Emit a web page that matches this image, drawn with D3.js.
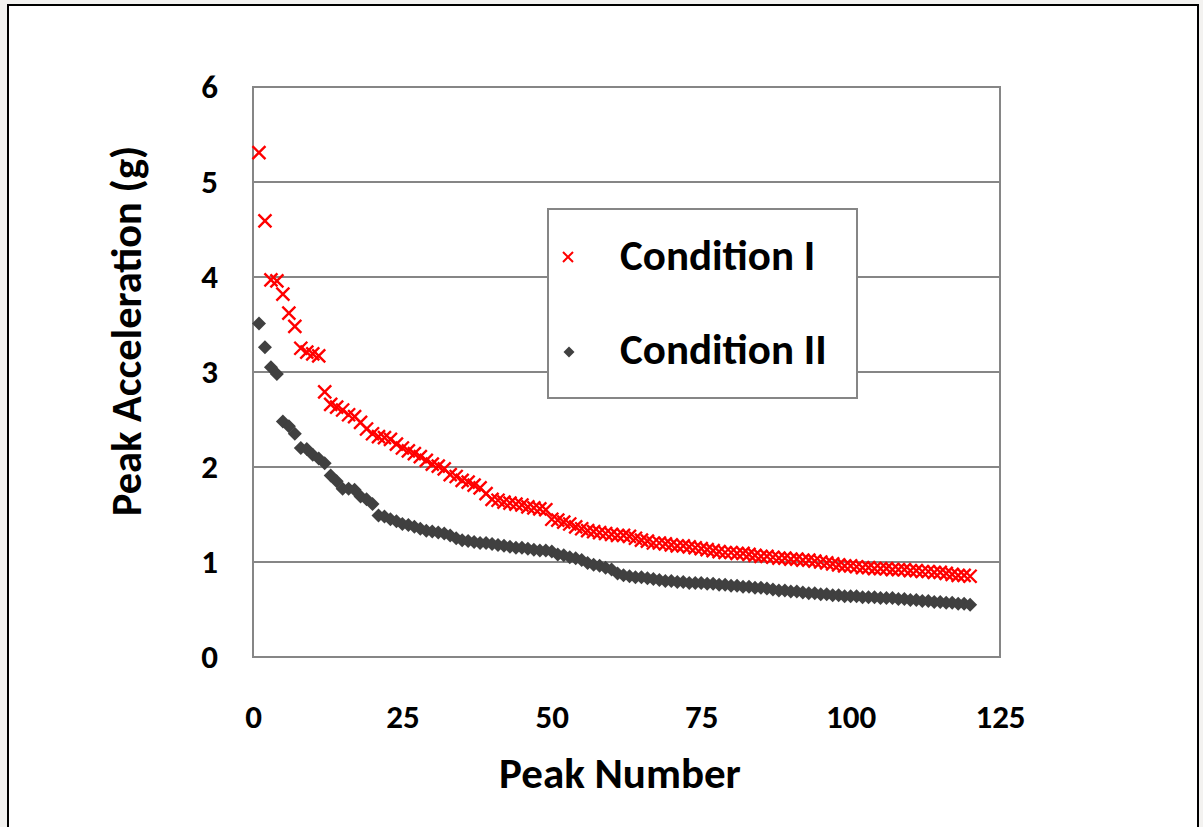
<!DOCTYPE html>
<html>
<head>
<meta charset="utf-8">
<script src="https://cdn.jsdelivr.net/npm/d3@7"></script>
<style>
html,body{margin:0;padding:0;background:#f3f2f0;}
svg{display:block;}
text{font-family:Carlito,Calibri,Lato,"Open Sans",sans-serif;font-weight:bold;fill:#000;}
</style>
</head>
<body>
<svg id="chart" width="1203" height="827"></svg>
<script>
const peakNumbers = d3.range(1, 121);
const conditionI = [
5.31,4.59,3.97,3.96,3.82,3.62,3.48,3.25,3.21,3.19,
3.17,2.79,2.66,2.63,2.60,2.55,2.53,2.47,2.40,2.35,
2.32,2.31,2.29,2.24,2.20,2.17,2.14,2.11,2.07,2.03,
2.01,1.98,1.92,1.90,1.86,1.84,1.81,1.78,1.72,1.66,
1.65,1.63,1.62,1.61,1.60,1.58,1.57,1.56,1.55,1.45,
1.44,1.42,1.40,1.37,1.35,1.33,1.32,1.31,1.30,1.29,
1.28,1.28,1.27,1.25,1.23,1.22,1.20,1.20,1.19,1.18,
1.17,1.17,1.16,1.15,1.14,1.13,1.12,1.11,1.10,1.10,
1.09,1.09,1.08,1.07,1.06,1.06,1.05,1.04,1.04,1.03,
1.03,1.02,1.02,1.01,1.00,0.99,0.98,0.97,0.96,0.96,
0.95,0.94,0.94,0.93,0.93,0.93,0.92,0.92,0.92,0.91,
0.91,0.90,0.90,0.89,0.89,0.88,0.87,0.86,0.86,0.85];
const conditionII = [
3.51,3.26,3.05,2.98,2.48,2.43,2.35,2.20,2.19,2.13,
2.09,2.04,1.91,1.85,1.77,1.77,1.76,1.69,1.66,1.61,
1.49,1.48,1.45,1.43,1.40,1.39,1.37,1.35,1.33,1.32,
1.31,1.30,1.28,1.25,1.23,1.22,1.21,1.20,1.20,1.19,
1.18,1.17,1.16,1.15,1.15,1.14,1.13,1.12,1.12,1.11,
1.08,1.07,1.05,1.04,1.02,0.99,0.97,0.96,0.94,0.92,
0.88,0.86,0.85,0.84,0.84,0.83,0.82,0.81,0.80,0.80,
0.79,0.79,0.78,0.78,0.78,0.77,0.77,0.76,0.76,0.75,
0.75,0.74,0.74,0.73,0.73,0.72,0.71,0.70,0.70,0.69,
0.69,0.68,0.67,0.67,0.66,0.66,0.65,0.65,0.64,0.64,
0.64,0.63,0.63,0.63,0.62,0.62,0.62,0.61,0.61,0.60,
0.60,0.59,0.59,0.58,0.58,0.57,0.57,0.56,0.56,0.55];
const xTicks = [0, 25, 50, 75, 100, 125];
const yTicks = [0, 1, 2, 3, 4, 5, 6];
const seriesNames = ["Condition I", "Condition II"];
const xTitle = "Peak Number";
const yTitle = "Peak Acceleration (g)";

const svg = d3.select("#chart");
svg.append("rect").attr("x", 8).attr("y", 5).attr("width", 1190).attr("height", 840)
  .attr("fill", "#fff").attr("stroke", "#000").attr("stroke-width", 2);

const L = 253, R = 1000, T = 87, B = 657;
const x = d3.scaleLinear().domain([0, 125]).range([L, R]);
const y = d3.scaleLinear().domain([0, 6]).range([B, T]);

svg.append("g").selectAll("line").data(yTicks.filter(v => v > 0)).join("line")
  .attr("x1", L).attr("x2", R).attr("y1", d => y(d)).attr("y2", d => y(d))
  .attr("stroke", "#868686").attr("stroke-width", 2);
svg.append("rect").attr("x", L).attr("y", T).attr("width", R - L).attr("height", B - T)
  .attr("fill", "none").attr("stroke", "#868686").attr("stroke-width", 2);

const yAxis = d3.axisLeft(y).tickValues(yTicks).tickSize(0).tickPadding(35).tickFormat(d3.format("d"));
const gy = svg.append("g").attr("transform", `translate(${L},0)`).call(yAxis);
gy.select(".domain").remove();
gy.selectAll("text").attr("font-size", 33).style("font-family", null);

const xAxis = d3.axisBottom(x).tickValues(xTicks).tickSize(0).tickPadding(48).tickFormat(d3.format("d"));
const gx = svg.append("g").attr("transform", `translate(0,${B})`).call(xAxis);
gx.select(".domain").remove();
gx.selectAll("text").attr("font-size", 33).style("font-family", null);

svg.append("text").attr("x", 620).attr("y", 788).attr("text-anchor", "middle")
  .attr("font-size", 43).text(xTitle);
svg.append("text").attr("transform", "translate(141,331) rotate(-90)").attr("text-anchor", "middle")
  .attr("font-size", 42.5).text(yTitle);

const xPath = s => `M${-s},${-s}L${s},${s}M${-s},${s}L${s},${-s}`;
const dPath = s => `M0,${-s}L${s},0L0,${s}L${-s},0Z`;

const dataII = peakNumbers.map((n, i) => [n, conditionII[i]]);
const dataI = peakNumbers.map((n, i) => [n, conditionI[i]]);

svg.append("g").selectAll("path").data(dataII).join("path")
  .attr("transform", d => `translate(${x(d[0])},${y(d[1])})`)
  .attr("d", dPath(7)).attr("fill", "#404040");

svg.append("g").selectAll("path").data(dataI).join("path")
  .attr("transform", d => `translate(${x(d[0])},${y(d[1])})`)
  .attr("d", xPath(6.5)).attr("fill", "none").attr("stroke", "#ff0000").attr("stroke-width", 2.4);

svg.append("rect").attr("x", 548).attr("y", 209).attr("width", 309).attr("height", 189)
  .attr("fill", "#fff").attr("stroke", "#868686").attr("stroke-width", 2);
svg.append("path").attr("transform", "translate(568,257)").attr("d", xPath(5))
  .attr("fill", "none").attr("stroke", "#ff0000").attr("stroke-width", 2);
svg.append("path").attr("transform", "translate(569,352)").attr("d", dPath(5.5))
  .attr("fill", "#404040");
svg.append("text").attr("x", 620).attr("y", 270).attr("font-size", 43).text(seriesNames[0]);
svg.append("text").attr("x", 620).attr("y", 364).attr("font-size", 43).text(seriesNames[1]);
</script>
</body>
</html>
